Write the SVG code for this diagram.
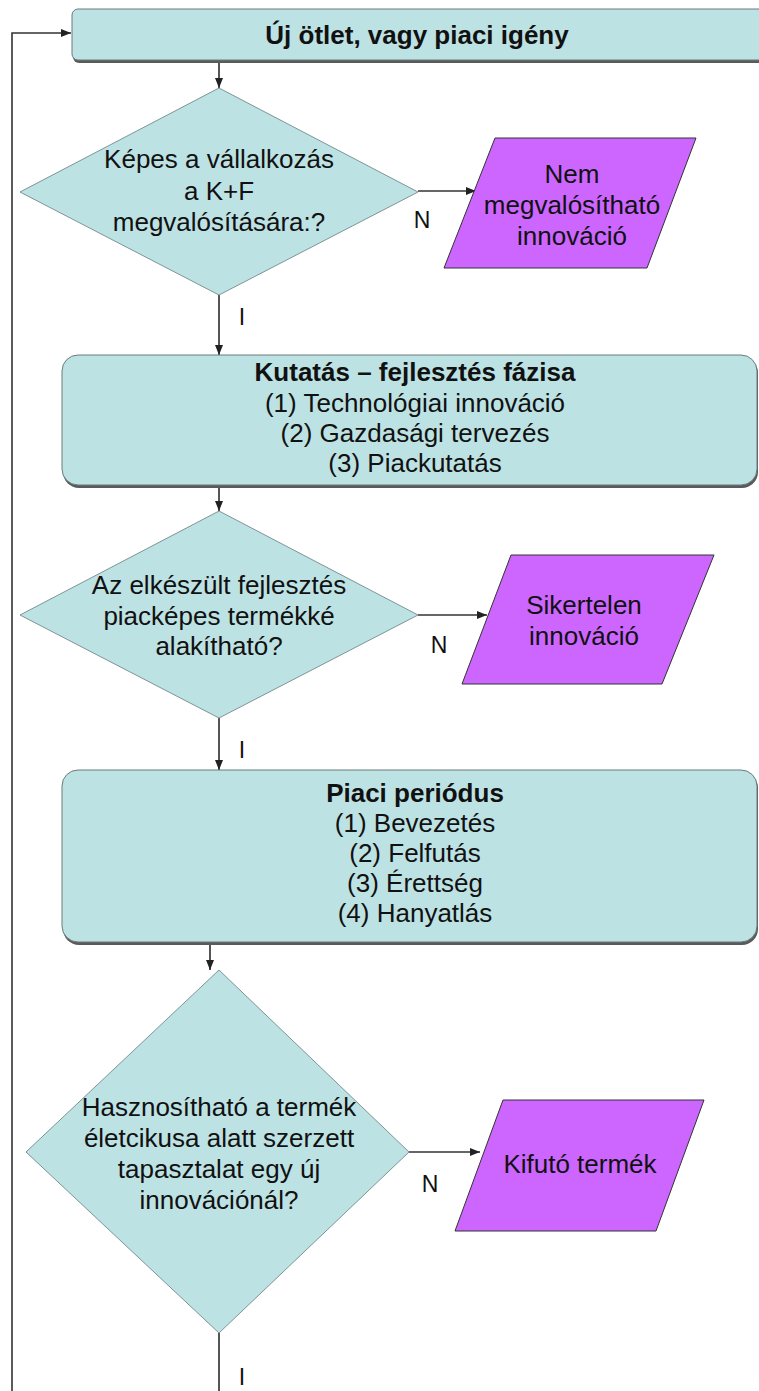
<svg xmlns="http://www.w3.org/2000/svg" width="759" height="1391" viewBox="0 0 759 1391">
<defs>
<marker id="arr" markerUnits="userSpaceOnUse" markerWidth="10" markerHeight="10" viewBox="0 0 10 10" refX="10" refY="5" orient="auto">
<path d="M0,1 L10,5 L0,9 Z" fill="#222"/>
</marker>
</defs>
<style>
.box{fill:#bde2e4;stroke:#6a7a7b;stroke-width:1}
.shadow{fill:#5a5a5a}
.dia{fill:#bde2e4;stroke:#7e9496;stroke-width:1}
.para{fill:#cc66ff;stroke:#333;stroke-width:1}
.t{font-family:"Liberation Sans",Arial,sans-serif;font-size:26px;fill:#111;text-anchor:middle}
.b{font-weight:bold}
.lbl{font-family:"Liberation Sans",Arial,sans-serif;font-size:23px;fill:#111;text-anchor:middle}
.c{fill:none;stroke:#333;stroke-width:1.6}
.cv{fill:none;stroke:#555;stroke-width:2}
</style>
<rect width="759" height="1391" fill="#ffffff"/>

<g id="connectors">
<path class="c" d="M12,1391 V33 H71" marker-end="url(#arr)"/>
<path class="cv" d="M219,61 V88" marker-end="url(#arr)"/>
<path class="c" d="M418,191 H476" marker-end="url(#arr)"/>
<path class="cv" d="M219,295 V355" marker-end="url(#arr)"/>
<path class="cv" d="M219,486 V511" marker-end="url(#arr)"/>
<path class="c" d="M418,615 H487" marker-end="url(#arr)"/>
<path class="cv" d="M219,718 V770" marker-end="url(#arr)"/>
<path class="cv" d="M210,943 V970" marker-end="url(#arr)"/>
<path class="c" d="M409,1152 H480" marker-end="url(#arr)"/>
<path class="cv" d="M219,1333 V1391"/>
<text class="lbl" x="422" y="228">N</text>
<text class="lbl" x="242" y="325">I</text>
<text class="lbl" x="439" y="653">N</text>
<text class="lbl" x="242" y="758">I</text>
<text class="lbl" x="430" y="1192">N</text>
<text class="lbl" x="242" y="1385">I</text>
</g>

<g id="start">
<rect class="shadow" x="73" y="11" width="700" height="52" rx="6"/>
<rect class="box" x="72" y="9" width="700" height="51" rx="6"/>
<text class="t b" x="417" y="44">Új ötlet, vagy piaci igény</text>
</g>

<g id="decision1">
<polygon class="dia" points="219,88 418,192 219,295 20,192"/>
<text class="t" x="219" y="168">Képes a vállalkozás</text>
<text class="t" x="219" y="200">a K+F</text>
<text class="t" x="219" y="231">megvalósítására:?</text>
</g>

<g id="fail1">
<polygon class="para" points="495,138 696,138 647,268 444,268"/>
<text class="t" x="572" y="183">Nem</text>
<text class="t" x="572" y="214">megvalósítható</text>
<text class="t" x="572" y="245">innováció</text>
</g>

<g id="rnd">
<rect class="shadow" x="63" y="357" width="695" height="131" rx="16"/>
<rect class="box" x="62" y="355" width="695" height="130" rx="16"/>
<text class="t b" x="415" y="381">Kutatás – fejlesztés fázisa</text>
<text class="t" x="415" y="412">(1) Technológiai innováció</text>
<text class="t" x="415" y="442">(2) Gazdasági tervezés</text>
<text class="t" x="415" y="472">(3) Piackutatás</text>
</g>

<g id="decision2">
<polygon class="dia" points="219,511 418,615 219,718 20,615"/>
<text class="t" x="219" y="594">Az elkészült fejlesztés</text>
<text class="t" x="219" y="625">piacképes termékké</text>
<text class="t" x="219" y="655">alakítható?</text>
</g>

<g id="fail2">
<polygon class="para" points="511,555 714,555 662,684 462,684"/>
<text class="t" x="584" y="614">Sikertelen</text>
<text class="t" x="584" y="645">innováció</text>
</g>

<g id="market">
<rect class="shadow" x="63" y="772" width="695" height="173" rx="16"/>
<rect class="box" x="62" y="770" width="695" height="172" rx="16"/>
<text class="t b" x="415" y="802">Piaci periódus</text>
<text class="t" x="415" y="832">(1) Bevezetés</text>
<text class="t" x="415" y="862">(2) Felfutás</text>
<text class="t" x="415" y="892">(3) Érettség</text>
<text class="t" x="415" y="922">(4) Hanyatlás</text>
</g>

<g id="decision3">
<polygon class="dia" points="219,970 409,1152 219,1333 26,1152"/>
<text class="t" x="219" y="1116">Hasznosítható a termék</text>
<text class="t" x="219" y="1147">életcikusa alatt szerzett</text>
<text class="t" x="219" y="1178">tapasztalat egy új</text>
<text class="t" x="219" y="1209">innovációnál?</text>
</g>

<g id="fail3">
<polygon class="para" points="503,1100 704,1100 656,1231 455,1231"/>
<text class="t" x="580" y="1173">Kifutó termék</text>
</g>
</svg>
